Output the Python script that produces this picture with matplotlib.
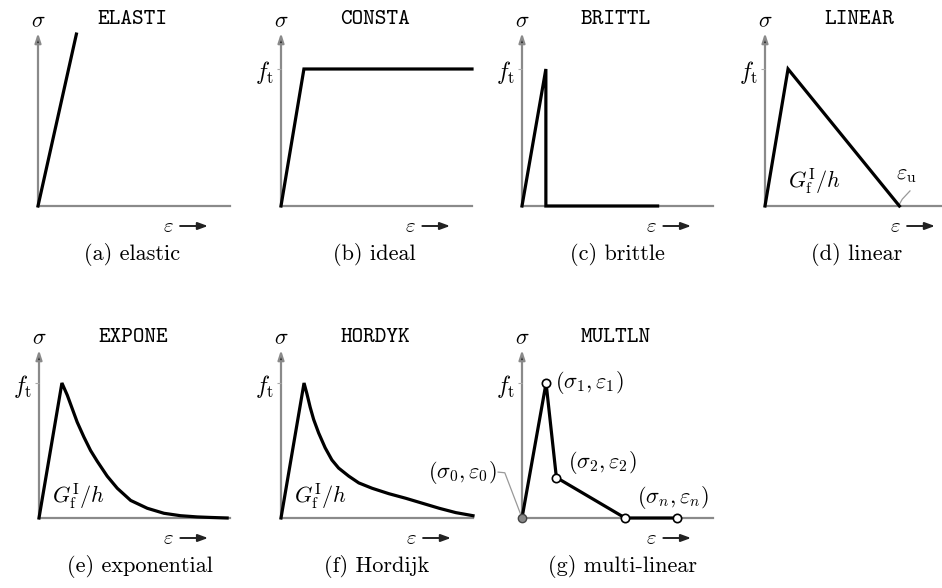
import matplotlib
matplotlib.use("Agg")
import matplotlib.pyplot as plt

plt.rcParams['mathtext.fontset'] = 'cm'
plt.rcParams['font.family'] = ['DejaVu Serif']
plt.rcParams['axes.unicode_minus'] = False

W, H = 942, 588

# softening diagrams: strain as a fraction of the axis length, stress in units of f_t
a_eps = [0.0, 0.20]
a_sig = [0.0, 1.255]

b_eps = [0.0, 0.12, 1.0]
b_sig = [0.0, 1.0, 1.0]

c_eps = [0.0, 0.125, 0.125, 0.71]
c_sig = [0.0, 1.0, 0.0, 0.0]

d_eps = [0.0, 0.12, 0.70]
d_sig = [0.0, 1.0, 0.0]

e_eps = [0.0, 0.12, 0.148, 0.174, 0.200, 0.235, 0.27, 0.305, 0.357, 0.41,
         0.48, 0.567, 0.654, 0.741, 0.828, 0.90, 0.985]
e_sig = [0.0, 1.0, 0.91, 0.81, 0.71, 0.60, 0.50, 0.42, 0.31, 0.22,
         0.13, 0.072, 0.035, 0.017, 0.008, 0.004, 0.0]

f_eps = [0.0, 0.12, 0.135, 0.152, 0.17, 0.196, 0.23, 0.265, 0.30, 0.353,
         0.405, 0.475, 0.562, 0.65, 0.737, 0.824, 0.91, 1.0]
f_sig = [0.0, 1.0, 0.92, 0.82, 0.73, 0.63, 0.52, 0.43, 0.37, 0.31,
         0.26, 0.22, 0.18, 0.146, 0.109, 0.072, 0.04, 0.017]

g_eps = [0.0, 0.126, 0.18, 0.54, 0.81]
g_sig = [0.0, 1.0, 0.30, 0.0, 0.0]

titles = ['ELASTI', 'CONSTA', 'BRITTL', 'LINEAR', 'EXPONE', 'HORDYK', 'MULTLN']
captions = ['(a) elastic', '(b) ideal', '(c) brittle', '(d) linear',
            '(e) exponential', '(f) Hordijk', '(g) multi-linear']

# axis origin (px from left, px from top), axis length, axis height, f_t height
panels = [
    (38, 206, 192, 173, 137),
    (281, 206, 191, 173, 137),
    (522, 206, 191, 173, 137),
    (765, 206, 192, 173, 137),
    (39, 518, 191, 168, 135),
    (281, 518, 192, 168, 135),
    (522, 518, 191, 168, 135),
]
caption_x = [132, 374, 617, 857, 140, 377, 622]

fig = plt.figure(figsize=(W / 100, H / 100), dpi=100)
fig.patch.set_facecolor('white')

axes = []
for i, (x0, y0, w, h, hf) in enumerate(panels):
    ax = fig.add_axes([x0 / W, 1 - y0 / H, w / W, h / H])
    ax.set_xlim(0, 1)
    ax.set_ylim(0, h / hf)
    ax.patch.set_visible(False)
    for s in ax.spines.values():
        s.set_visible(False)
    ax.set_xticks([])
    if i == 0:
        ax.set_yticks([])
    else:
        ax.set_yticks([1.0], [r'$f_{\rm t}$'])
        ax.tick_params(axis='y', length=3, width=0.8, color='#aaaaaa',
                       labelsize=17, pad=2)
    # coordinate axes
    ax.plot([0, 1], [0, 0], transform=ax.transAxes, color='#8a8a8a',
            lw=1.6, clip_on=False, zorder=1)
    ax.annotate('', xy=(0, 1), xytext=(0, 0), xycoords='axes fraction',
                arrowprops=dict(arrowstyle='-|>,head_length=0.55,head_width=0.18',
                                ec='#8a8a8a', fc='#222222', lw=1.6,
                                shrinkA=0, shrinkB=0), zorder=1)
    ax.annotate(r'$\sigma$', xy=(0, h + 12), xycoords=('axes fraction', 'axes pixels'),
                ha='center', va='center', fontsize=16)
    ax.annotate(titles[i], xy=(94, h + 13), xycoords='axes pixels',
                ha='center', va='center', fontsize=16, family='cmtt10')
    # strain label with arrow
    ax.annotate(r'$\varepsilon$', xy=(0.68, -20), xycoords=('axes fraction', 'axes pixels'),
                ha='center', va='center', fontsize=15, annotation_clip=False)
    ax.annotate('', xy=(0.885, -20), xytext=(0.74, -20),
                xycoords=('axes fraction', 'axes pixels'),
                textcoords=('axes fraction', 'axes pixels'),
                arrowprops=dict(arrowstyle='-|>,head_length=0.6,head_width=0.22',
                                color='#222222', lw=1.4, shrinkA=0, shrinkB=0),
                annotation_clip=False)
    fig.text(caption_x[i] / W, 1 - (y0 + 49) / H, captions[i],
             ha='center', va='center', fontsize=16, family='cmr10')
    axes.append(ax)

lw = 2.3
data = [(a_eps, a_sig), (b_eps, b_sig), (c_eps, c_sig), (d_eps, d_sig),
        (e_eps, e_sig), (f_eps, f_sig)]
for ax, (eps, sig) in zip(axes[:6], data):
    ax.plot(eps, sig, color='black', lw=lw, clip_on=False, zorder=3,
            solid_joinstyle='miter')

gf = r'$G_{\rm f}^{\rm I}/h$'
axes[3].text(0.12, 0.175, gf, fontsize=16, va='center', ha='left')
axes[4].text(0.066, 0.155, gf, fontsize=16, va='center', ha='left')
axes[5].text(0.066, 0.155, gf, fontsize=16, va='center', ha='left')

# ultimate strain marker in the linear diagram
axes[3].text(0.68, 0.23, r'$\varepsilon_{\rm u}$', fontsize=16, va='center', ha='left')
axes[3].plot([0.695, 0.715, 0.755], [0.0, 0.05, 0.11], color='#999999', lw=0.9,
             clip_on=False, zorder=2)

# multi-linear diagram
ag = axes[6]
ag.plot(g_eps, g_sig, color='black', lw=lw, clip_on=False, zorder=3)
ag.plot(g_eps[1:], g_sig[1:], 'o', ms=6, mfc='white', mec='black', mew=1.2,
        clip_on=False, zorder=4)
ag.plot(g_eps[:1], g_sig[:1], 'o', ms=6, mfc='#888888', mec='#444444', mew=1.0,
        clip_on=False, zorder=4)
ag.text(g_eps[1] + 0.047, g_sig[1], r'$(\sigma_1,\varepsilon_1)$', fontsize=16,
        va='center', ha='left')
ag.text(g_eps[2] + 0.06, g_sig[2] + 0.11, r'$(\sigma_2,\varepsilon_2)$', fontsize=16,
        va='center', ha='left')
ag.text(g_eps[3] + 0.06, g_sig[3] + 0.155, r'$(\sigma_n,\varepsilon_n)$', fontsize=16,
        va='center', ha='left')
ag.text(-0.135, 0.34, r'$(\sigma_0,\varepsilon_0)$', fontsize=16, va='center', ha='right')
ag.plot([-0.125, -0.09, -0.005], [0.34, 0.335, 0.02], color='#999999', lw=0.9,
        clip_on=False, zorder=2)

fig.savefig('out.png', dpi=100, facecolor='white')
